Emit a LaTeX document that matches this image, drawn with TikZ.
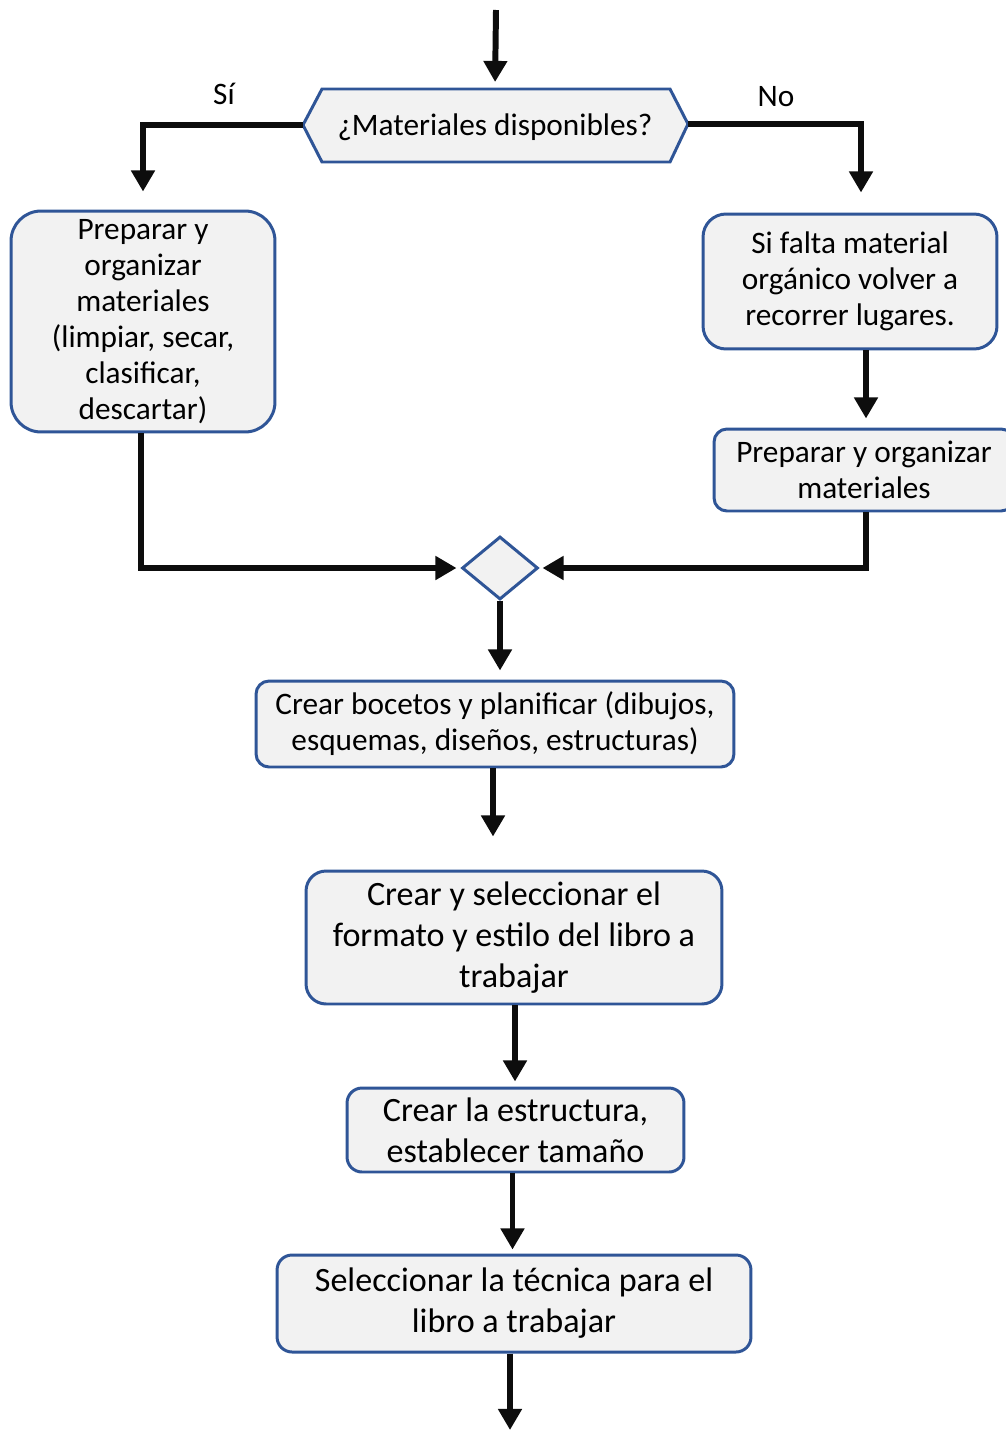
\documentclass[tikz,border=0pt]{standalone}
\usepackage{fontspec}
\setmainfont{Carlito}
\usetikzlibrary{arrows.meta,shapes.geometric,calc}
\definecolor{bordblue}{HTML}{2F5597}
\definecolor{boxfill}{HTML}{F2F2F2}
\definecolor{arrblack}{HTML}{0D0D0D}
\begin{document}
\begin{tikzpicture}[x=0.02cm,y=-0.02cm,
  box/.style={draw=bordblue, fill=boxfill, line width=1.7pt, align=center, inner sep=0pt,
    font=\fontsize{17.8}{20.5}\selectfont},
  bigtext/.style={font=\fontsize{19.4}{23.3}\selectfont},
  arr/.style={draw=arrblack, line width=3.4pt, -{Triangle[length=12pt,width=13pt]}},
  lbl/.style={font=\fontsize{17.8}{20.5}\selectfont, inner sep=0pt}]
\clip (0,0) rectangle (1006,1430);
\fill[white] (0,0) rectangle (1006,1430);

% decision hexagon
\coordinate (qL) at (303,125);
\coordinate (qR) at (688,124);
\draw[draw=bordblue, fill=boxfill, line width=1.7pt]
  (322,89) -- (670,89) -- (qR) -- (670,162) -- (322,162) -- (qL) -- cycle;
\node[lbl, minimum width=6.96cm, minimum height=1.46cm] (q) at (495,127) {¿Materiales disponibles?};
\coordinate (top) at (496,10);

% boxes
\node[box, rounded corners=0.6cm, minimum width=5.28cm, minimum height=4.42cm] (lbox) at (143,321.5)
  {Preparar y\\organizar\\materiales\\(limpiar, secar,\\clasificar,\\descartar)};
\node[box, rounded corners=0.46cm, minimum width=5.88cm, minimum height=2.70cm] (rbox1) at (850,281.5)
  {Si falta material\\orgánico volver a\\recorrer lugares.};
\node[box, rounded corners=0.26cm, minimum width=6.0cm, minimum height=1.64cm] (rbox2) at (864,470)
  {Preparar y organizar\\materiales};
\node[draw=bordblue, fill=boxfill, line width=1.7pt, diamond, inner sep=0pt,
  minimum width=1.52cm, minimum height=1.26cm] (dia) at (500,568) {};
\node[box, rounded corners=0.26cm, minimum width=9.56cm, minimum height=1.72cm] (boc) at (495,724)
  {Crear bocetos y planificar (dibujos,\\esquemas, diseños, estructuras)};
\node[box, bigtext, rounded corners=0.4cm, minimum width=8.32cm, minimum height=2.66cm] (crear) at (514,937.5)
  {Crear y seleccionar el\\formato y estilo del libro a\\trabajar};
\node[box, bigtext, rounded corners=0.3cm, minimum width=6.74cm, minimum height=1.68cm] (estr) at (515.5,1130)
  {Crear la estructura,\\establecer tamaño};
\node[box, bigtext, rounded corners=0.3cm, minimum width=9.48cm, minimum height=1.94cm] (tec) at (514,1303.5)
  {Seleccionar la técnica para el\\libro a trabajar};
\coordinate (bot) at (510,1430);

% labels
\node[lbl] (si) at (224,94) {Sí};
\node[lbl] (no) at (776,97) {No};

% connectors
\draw[arr, shorten >=0.14cm] (top) -- (q.north |- 0,89);
\draw[arr, shorten >=0.36cm] (qL) -| (lbox.north);
\draw[arr] (qR) -| ($(rbox1.north)+(11,-20)$);
\draw[arr] ($(rbox1.south)+(16,0)$) -- ($(rbox2.north)+(2,-9)$);
\draw[arr, shorten >=0.08cm] ($(lbox.south)+(-2,0)$) |- (dia.west);
\draw[arr, shorten >=0.06cm] ($(rbox2.south)+(2,0)$) |- (dia.east);
\draw[arr, shorten >=0.18cm] (dia.south) -- (dia.south |- boc.north);
\draw[arr, shorten >=0.66cm] ($(boc.south)+(-2,0)$) -- ($(boc.south |- crear.north)+(-2,0)$);
\draw[arr, shorten >=0.1cm] ($(crear.south)+(1,0)$) -- ($(crear.south |- estr.north)+(1,0)$);
\draw[arr, shorten >=0.08cm] ($(estr.south)+(-3,0)$) -- ($(estr.south |- tec.north)+(-3,0)$);
\draw[arr] ($(tec.south)+(-4,0)$) -- (bot);
\end{tikzpicture}
\end{document}
